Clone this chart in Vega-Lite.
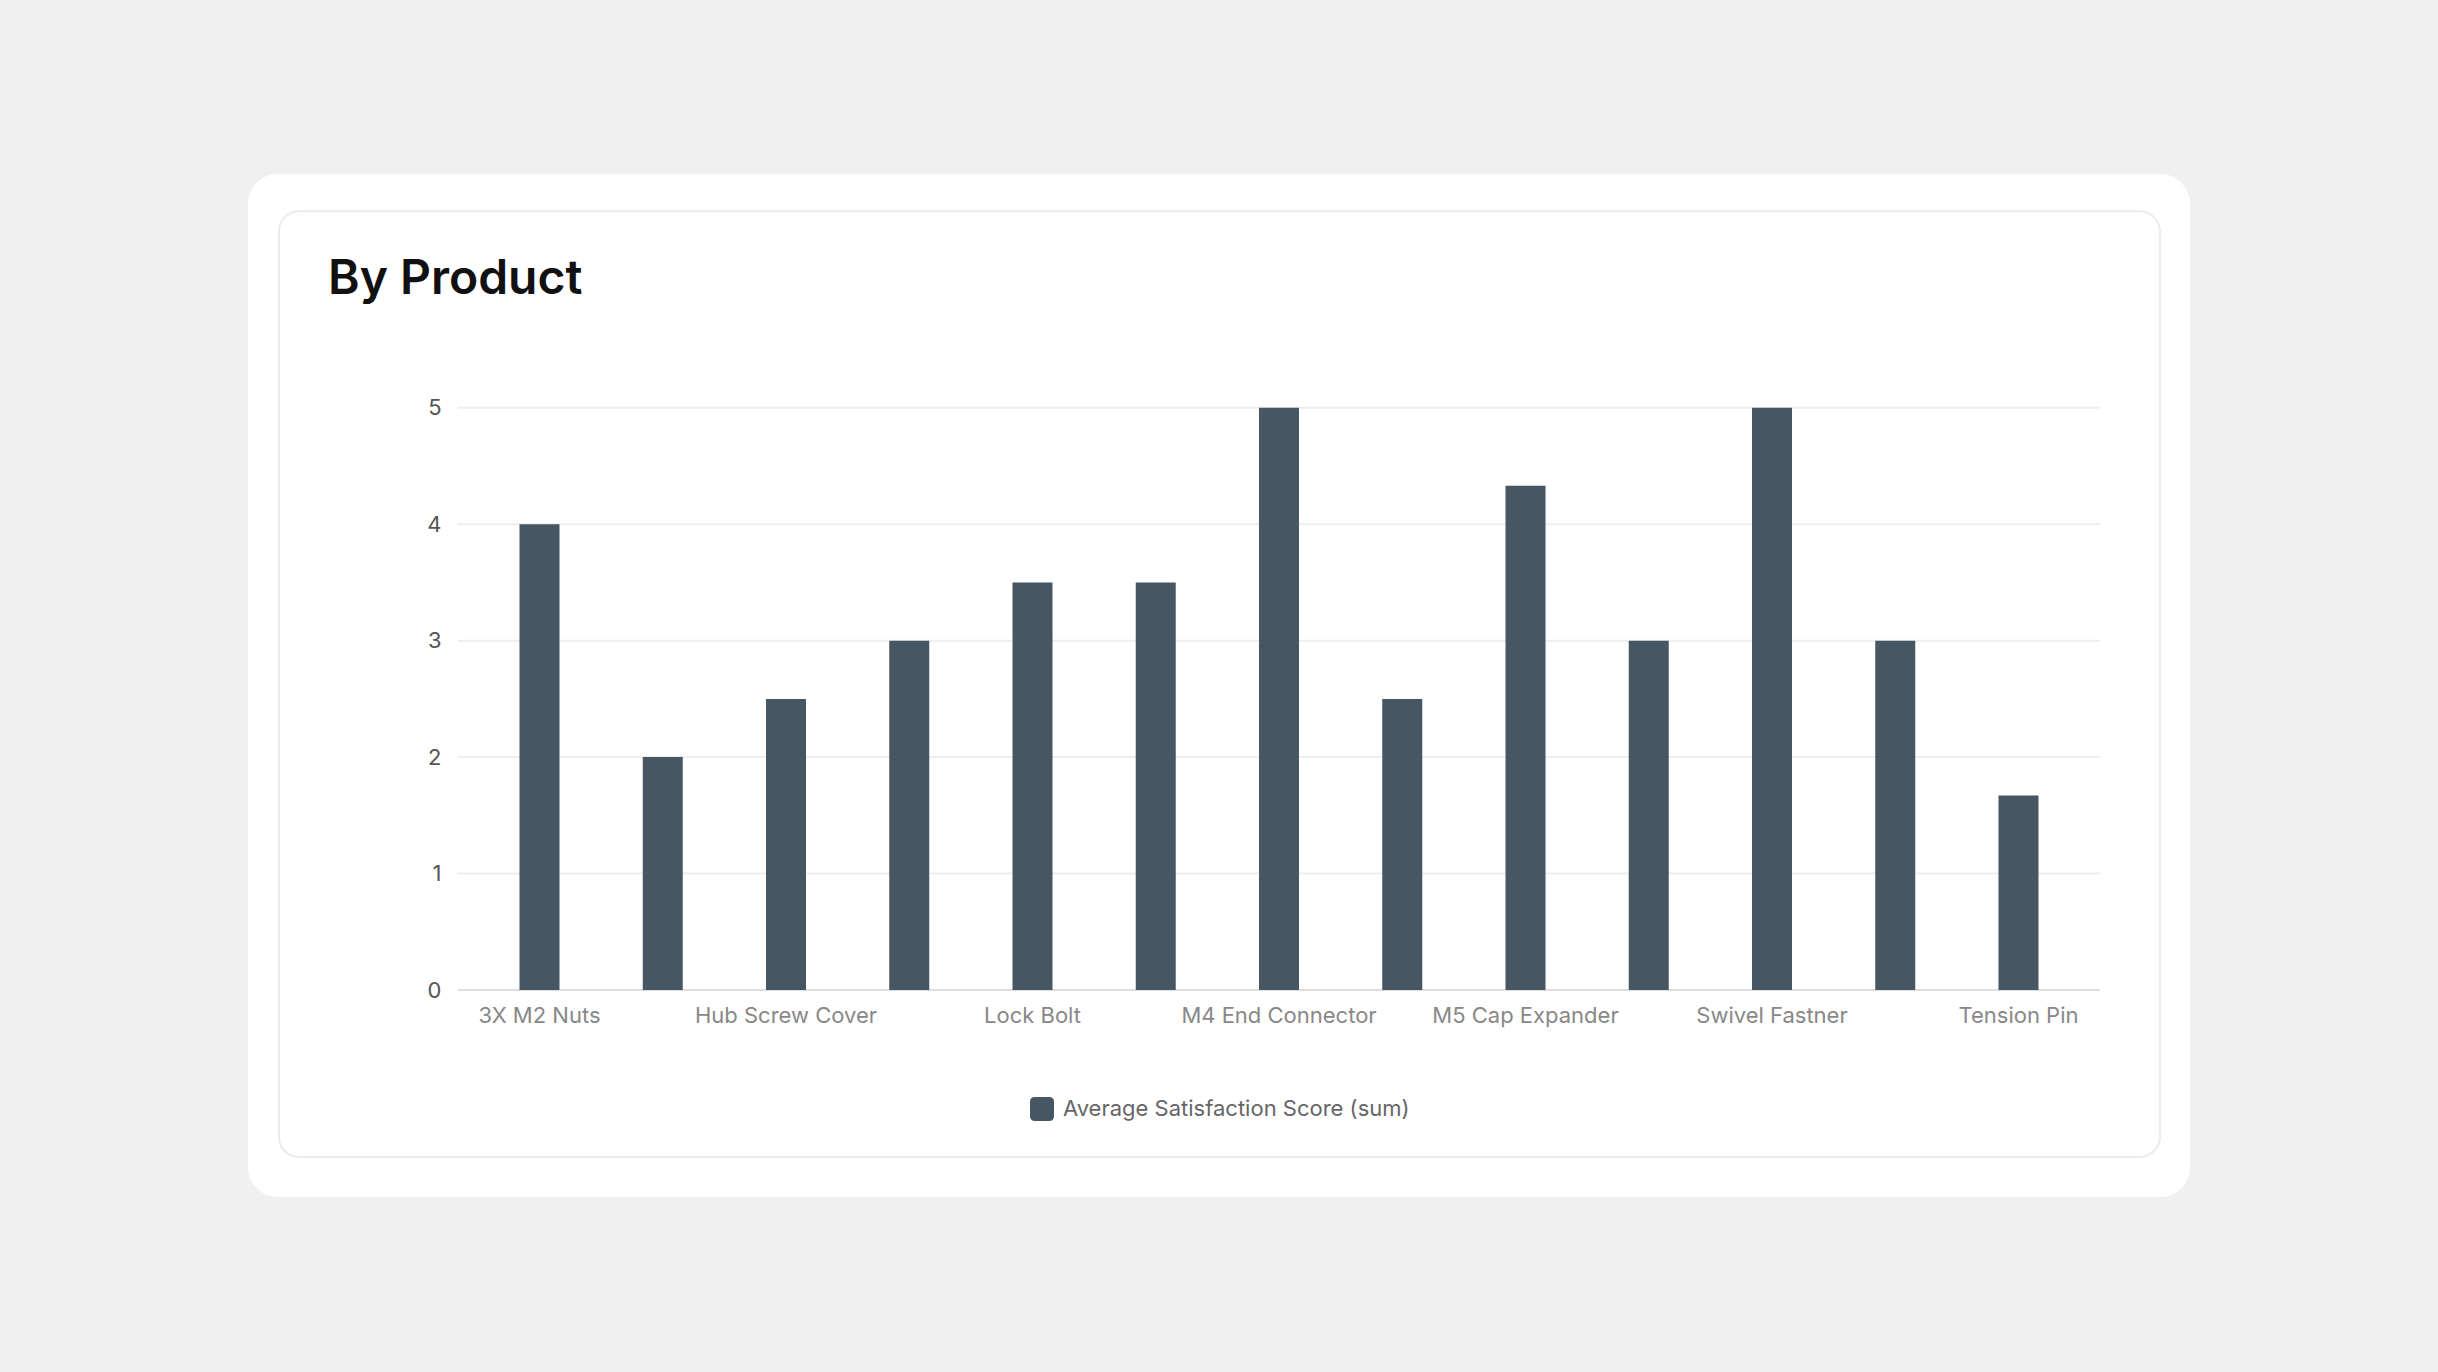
{
  "$schema": "https://vega.github.io/schema/vega-lite/v6.json",
  "autosize": {"type": "none"},
  "width": 1942,
  "height": 1023,
  "padding": {"left": 248, "top": 174, "right": 248, "bottom": 175},
  "background": "#f0f0f0",
  "title": {
    "text": "By Product",
    "anchor": "start",
    "frame": "group",
    "baseline": "alphabetic",
    "offset": 0,
    "dx": 80,
    "dy": 168,
    "font": "Inter",
    "fontSize": 48,
    "fontWeight": 600,
    "color": "#111111"
  },
  "datasets": {
    "scores": [
      {"product": "3X M2 Nuts", "score": 4, "series": "Average Satisfaction Score (sum)"},
      {"product": "Flat Washer", "score": 2, "series": "Average Satisfaction Score (sum)"},
      {"product": "Hub Screw Cover", "score": 2.5, "series": "Average Satisfaction Score (sum)"},
      {"product": "Joint Connector", "score": 3, "series": "Average Satisfaction Score (sum)"},
      {"product": "Lock Bolt", "score": 3.5, "series": "Average Satisfaction Score (sum)"},
      {"product": "M3 Hex Screw", "score": 3.5, "series": "Average Satisfaction Score (sum)"},
      {"product": "M4 End Connector", "score": 5, "series": "Average Satisfaction Score (sum)"},
      {"product": "M4 Washer", "score": 2.5, "series": "Average Satisfaction Score (sum)"},
      {"product": "M5 Cap Expander", "score": 4.33, "series": "Average Satisfaction Score (sum)"},
      {"product": "Shelf Bracket", "score": 3, "series": "Average Satisfaction Score (sum)"},
      {"product": "Swivel Fastner", "score": 5, "series": "Average Satisfaction Score (sum)"},
      {"product": "T-Bolt", "score": 3, "series": "Average Satisfaction Score (sum)"},
      {"product": "Tension Pin", "score": 1.67, "series": "Average Satisfaction Score (sum)"}
    ],
    "grid": [
      {"v": 0, "from": "3X M2 Nuts", "to": "Tension Pin"},
      {"v": 1, "from": "3X M2 Nuts", "to": "Tension Pin"},
      {"v": 2, "from": "3X M2 Nuts", "to": "Tension Pin"},
      {"v": 3, "from": "3X M2 Nuts", "to": "Tension Pin"},
      {"v": 4, "from": "3X M2 Nuts", "to": "Tension Pin"},
      {"v": 5, "from": "3X M2 Nuts", "to": "Tension Pin"}
    ],
    "frame": [
      {"from": "3X M2 Nuts", "to": "Tension Pin", "top": 6.687, "bottom": -1.433}
    ]
  },
  "layer": [
    {
      "data": {"name": "frame"},
      "mark": {"type": "rect", "fill": null, "stroke": "#ebebeb", "strokeWidth": 2, "cornerRadius": 20},
      "encoding": {
        "x": {"field": "from", "type": "nominal", "bandPosition": -6.015, "title": null},
        "x2": {"field": "to", "bandPosition": 4.035},
        "y": {"field": "top", "type": "quantitative", "title": null},
        "y2": {"field": "bottom"}
      }
    },
    {
      "data": {"name": "grid"},
      "mark": {"type": "rule", "strokeWidth": 2},
      "encoding": {
        "x": {"field": "from", "type": "nominal", "bandPosition": -1.54, "title": null},
        "x2": {"field": "to", "bandPosition": 2.535},
        "y": {"field": "v", "type": "quantitative", "title": null},
        "color": {"condition": {"test": "datum.v === 0", "value": "#dedede"}, "value": "#eeeeee"}
      }
    },
    {
      "data": {"name": "scores"},
      "mark": {"type": "bar"},
      "encoding": {
        "x": {
          "field": "product",
          "type": "nominal",
          "title": null,
          "scale": {
            "domain": ["3X M2 Nuts", "Flat Washer", "Hub Screw Cover", "Joint Connector", "Lock Bolt", "M3 Hex Screw", "M4 End Connector", "M4 Washer", "M5 Cap Expander", "Shelf Bracket", "Swivel Fastner", "T-Bolt", "Tension Pin"],
            "rangeMin": 210,
            "rangeMax": 1852,
            "paddingInner": 0.6755,
            "paddingOuter": 0.499,
            "align": 0.5
          },
          "axis": {
            "title": null,
            "values": ["3X M2 Nuts", "Hub Screw Cover", "Lock Bolt", "M4 End Connector", "M5 Cap Expander", "Swivel Fastner", "Tension Pin"],
            "labelAngle": 0,
            "labelAlign": "center",
            "bandPosition": 0.5,
            "domain": false,
            "ticks": false,
            "tickSize": 0,
            "grid": false,
            "labelPadding": 0,
            "offset": -175,
            "labelBaseline": "alphabetic",
            "labelLimit": 0,
            "labelOverlap": false,
            "labelFont": "Inter",
            "labelFontSize": 22,
            "labelColor": "#888888"
          }
        },
        "y": {
          "field": "score",
          "type": "quantitative",
          "title": null,
          "scale": {"domain": [-1.777, 7.007], "nice": false, "zero": false},
          "axis": {
            "title": null,
            "values": [0, 1, 2, 3, 4, 5],
            "format": "d",
            "grid": false,
            "domain": false,
            "ticks": false,
            "tickSize": 0,
            "labelPadding": 0,
            "offset": -193,
            "labelFont": "Inter",
            "labelFontSize": 22,
            "labelColor": "#555555"
          }
        },
        "color": {
          "field": "series",
          "type": "nominal",
          "scale": {"range": ["#465662"]},
          "legend": {
            "title": null,
            "orient": "none",
            "legendX": 782,
            "legendY": 923,
            "padding": 0,
            "symbolType": "M-1,-0.58 Q-1,-1 -0.58,-1 L0.58,-1 Q1,-1 1,-0.58 L1,0.58 Q1,1 0.58,1 L-0.58,1 Q-1,1 -1,0.58 Z",
            "symbolSize": 576,
            "symbolStrokeWidth": 0,
            "symbolOpacity": 1,
            "labelOffset": 9,
            "labelLimit": 0,
            "labelFont": "Inter",
            "labelFontSize": 22,
            "labelColor": "#666666"
          }
        }
      }
    }
  ],
  "config": {
    "font": "Inter",
    "view": {"fill": "white", "stroke": null, "cornerRadius": 30}
  }
}
